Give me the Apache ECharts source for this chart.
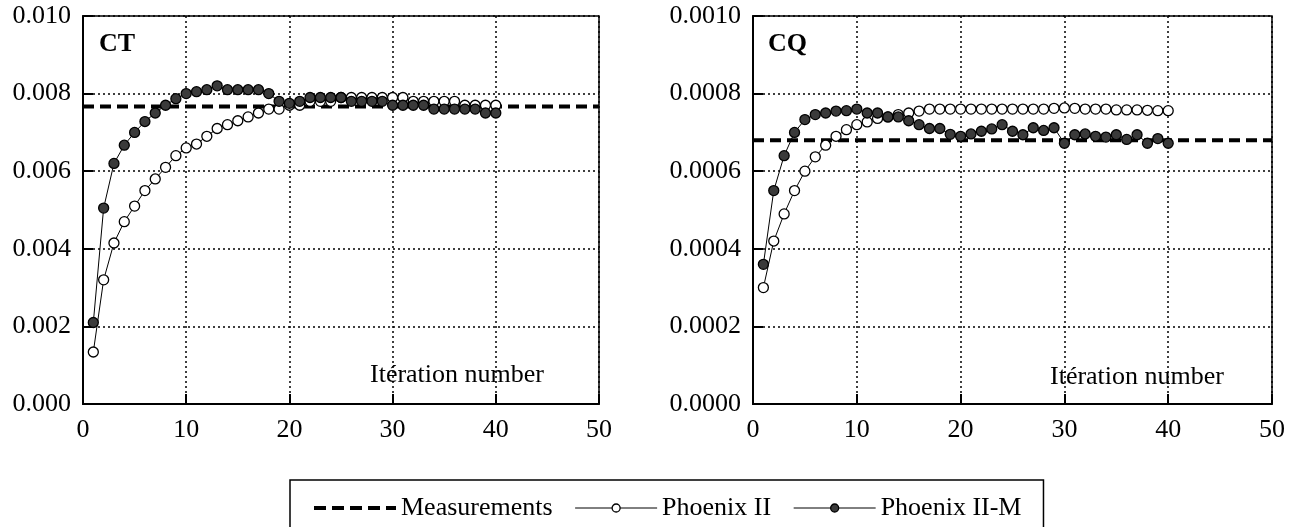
<!DOCTYPE html>
<html>
<head>
<meta charset="utf-8">
<script src="https://cdn.jsdelivr.net/npm/echarts@6/dist/echarts.min.js"></script>
<style>
html,body{margin:0;padding:0;background:#fff;}
#chart{width:1298px;height:527px;}
</style>
</head>
<body>
<div id="chart"></div>
<script>
// ---- data ----
var iterations = [1,2,3,4,5,6,7,8,9,10,11,12,13,14,15,16,17,18,19,20,
                  21,22,23,24,25,26,27,28,29,30,31,32,33,34,35,36,37,38,39,40];
var ctPhoenixII = [0.00134,0.0032,0.00415,0.0047,0.0051,0.0055,0.0058,0.0061,0.0064,0.0066,
                   0.0067,0.0069,0.0071,0.0072,0.0073,0.0074,0.0075,0.0076,0.0076,0.0077,
                   0.0077,0.0078,0.0078,0.0078,0.0079,0.0079,0.0079,0.0079,0.0079,0.0079,
                   0.0079,0.0078,0.0078,0.0078,0.0078,0.0078,0.0077,0.0077,0.0077,0.0077];
var ctPhoenixIIM = [0.0021,0.00505,0.0062,0.00667,0.0070,0.00728,0.0075,0.0077,0.00787,0.0080,
                    0.00805,0.0081,0.0082,0.0081,0.0081,0.0081,0.0081,0.0080,0.0078,0.00775,
                    0.0078,0.0079,0.0079,0.0079,0.0079,0.0078,0.0078,0.0078,0.0078,0.0077,
                    0.0077,0.0077,0.0077,0.0076,0.0076,0.0076,0.0076,0.0076,0.0075,0.0075];
var ctMeasured = 0.00767;
var cqPhoenixII = [0.0003,0.00042,0.00049,0.00055,0.0006,0.000637,0.000667,0.00069,0.000707,0.00072,
                   0.000727,0.000736,0.00074,0.000746,0.00075,0.000755,0.00076,0.00076,0.00076,0.00076,
                   0.00076,0.00076,0.00076,0.00076,0.00076,0.00076,0.00076,0.00076,0.000762,0.000763,
                   0.000762,0.00076,0.00076,0.00076,0.000758,0.000758,0.000758,0.000757,0.000756,0.000756];
var cqPhoenixIIM = [0.00036,0.00055,0.00064,0.0007,0.000733,0.000746,0.00075,0.000755,0.000756,0.00076,
                    0.00075,0.00075,0.00074,0.00074,0.00073,0.00072,0.00071,0.00071,0.000695,0.00069,
                    0.000696,0.000703,0.000709,0.00072,0.000703,0.000694,0.000712,0.000705,0.000712,0.000672,
                    0.000694,0.000696,0.00069,0.000688,0.000694,0.000682,0.000694,0.000672,0.000684,0.000672];
var cqMeasured = 0.00068;
var xRange = [0, 50];
var legendNames = ['Measurements', 'Phoenix II', 'Phoenix II-M'];

// ---- helpers ----
function pairs(xs, ys){ return xs.map(function(x,i){ return [x, ys[i]]; }); }
var FONT = 'Liberation Serif';

function xAxis(gi){
  return {
    type:'value', gridIndex:gi, min:xRange[0], max:xRange[1], interval:10,
    axisLine:{show:true, onZero:false, lineStyle:{color:'#000', width:2}},
    axisTick:{show:true, inside:true, length:10, lineStyle:{color:'#000', width:2}},
    axisLabel:{color:'#000', fontFamily:FONT, fontSize:26, margin:13},
    splitLine:{show:true, lineStyle:{color:'#000', width:1.5, type:[2,3]}}
  };
}
function yAxis(gi, max, itv, dec){
  return {
    type:'value', gridIndex:gi, min:0, max:max, interval:itv,
    axisLine:{show:true, lineStyle:{color:'#000', width:2}},
    axisTick:{show:true, inside:true, length:10, lineStyle:{color:'#000', width:2}},
    axisLabel:{color:'#000', fontFamily:FONT, fontSize:26, margin:12,
               formatter:function(v){ return v.toFixed(dec); }},
    splitLine:{show:true, lineStyle:{color:'#000', width:1.5, type:[2,3]}}
  };
}
function measSeries(gi, v){
  return {
    name:legendNames[0], type:'line', xAxisIndex:gi, yAxisIndex:gi,
    data:[[xRange[0], v],[xRange[1], v]], symbol:'none', silent:true,
    lineStyle:{color:'#000', width:4, type:[11,6]}, itemStyle:{color:'#000'}, z:2
  };
}
function openSeries(gi, ys){
  return {
    name:legendNames[1], type:'line', xAxisIndex:gi, yAxisIndex:gi,
    data:pairs(iterations, ys), symbol:'circle', symbolSize:10, showAllSymbol:true,
    lineStyle:{color:'#000', width:1},
    itemStyle:{color:'#fff', borderColor:'#000', borderWidth:1.3}, z:3
  };
}
function filledSeries(gi, ys){
  return {
    name:legendNames[2], type:'line', xAxisIndex:gi, yAxisIndex:gi,
    data:pairs(iterations, ys), symbol:'circle', symbolSize:10, showAllSymbol:true,
    lineStyle:{color:'#000', width:1},
    itemStyle:{color:'#3a3a3a', borderColor:'#000', borderWidth:1.3}, z:4
  };
}

var chart = echarts.init(document.getElementById('chart'), null, {renderer:'canvas'});
var option = {
  backgroundColor:'#fff',
  animation:false,
  grid:[
    {left:83, right:699, top:16, bottom:123, show:true, borderColor:'#000', borderWidth:1.5, backgroundColor:'transparent'},
    {left:753, right:26, top:16, bottom:123, show:true, borderColor:'#000', borderWidth:1.5, backgroundColor:'transparent'}
  ],
  xAxis:[xAxis(0), xAxis(1)],
  yAxis:[yAxis(0, 0.010, 0.002, 3), yAxis(1, 0.0010, 0.0002, 4)],
  legend:{
    left:290, top:480,
    data:[
      {name:legendNames[0], itemStyle:{opacity:0}, lineStyle:{width:4, type:[12,6], color:'#000'}},
      {name:legendNames[1], itemStyle:{color:'#fff', borderColor:'#000', borderWidth:1.3}, lineStyle:{width:1, color:'#000'}},
      {name:legendNames[2], itemStyle:{color:'#3a3a3a', borderColor:'#000', borderWidth:1.3}, lineStyle:{width:1, color:'#000'}}
    ],
    itemWidth:82, itemHeight:10, itemGap:22,
    padding:[15, 22, 15, 22],
    borderColor:'#000', borderWidth:1.5,
    textStyle:{color:'#000', fontFamily:FONT, fontSize:26},
    selectedMode:false
  },
  series:[
    measSeries(0, ctMeasured), openSeries(0, ctPhoenixII), filledSeries(0, ctPhoenixIIM),
    measSeries(1, cqMeasured), openSeries(1, cqPhoenixII), filledSeries(1, cqPhoenixIIM)
  ],
  graphic:[
    {type:'text', left:99, top:31, style:{text:'CT', font:'bold 26px "Liberation Serif"', fill:'#000'}},
    {type:'text', left:768, top:31, style:{text:'CQ', font:'bold 26px "Liberation Serif"', fill:'#000'}},
    {type:'text', left:370, top:362, style:{text:'Itération number', font:'26px "Liberation Serif"', fill:'#000'}},
    {type:'text', left:1050, top:364, style:{text:'Itération number', font:'26px "Liberation Serif"', fill:'#000'}}
  ]
};
chart.setOption(option);
</script>
</body>
</html>
